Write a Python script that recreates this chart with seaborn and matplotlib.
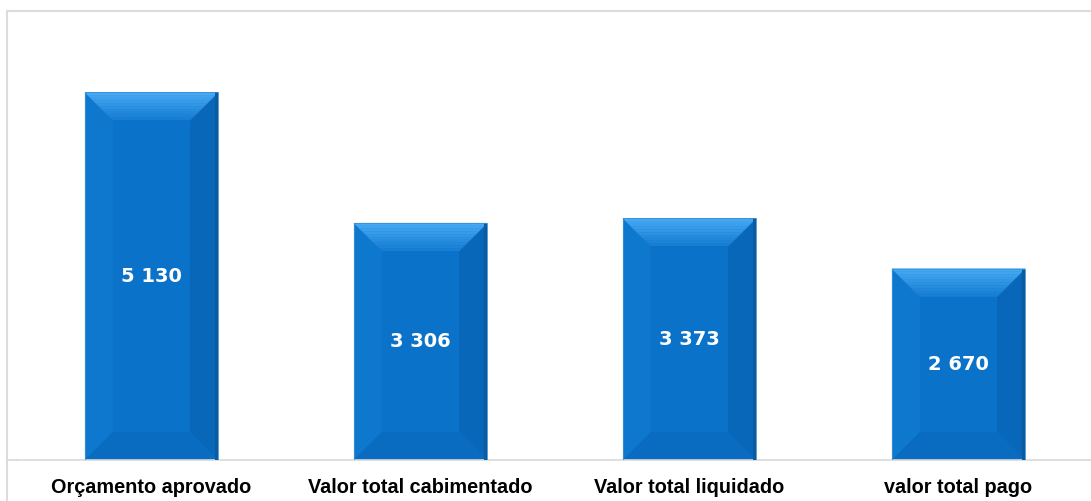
import pandas as pd
import numpy as np
import matplotlib
matplotlib.use("Agg")
import matplotlib.pyplot as plt
import seaborn as sns
from matplotlib.patches import Polygon, Rectangle
from matplotlib.lines import Line2D
from matplotlib.colors import to_rgb

# Data
categories = ['Orçamento aprovado', 'Valor total cabimentado', 'Valor total liquidado', 'valor total pago']
values = [5130, 3306, 3373, 2670]
value_labels = ['5 130', '3 306', '3 373', '2 670']

df = pd.DataFrame({'categoria': categories, 'valor': values})

sns.set_style('white')
plt.rcParams['font.family'] = ['Liberation Sans', 'DejaVu Sans']

fig = plt.figure(figsize=(10.91, 5.01), dpi=100)
W, H = 1091, 501
ax = fig.add_axes([17 / W, (H - 460) / H, 1076 / W, 440 / H])

main_blue = '#0a72c8'
sns.barplot(data=df, x='categoria', y='valor', color=main_blue, width=0.495,
            saturation=1, ax=ax, edgecolor='none')
ax.set_ylim(0, 6140)
ax.set_xlim(-0.5, len(categories) - 0.5)

# bevel effect, sized in pixels converted to data units
px_x = len(categories) / 1076.0
px_y = 6140 / 440.0
bev = 28
top_light = np.array(to_rgb('#45a9f3'))
top_dark = np.array(to_rgb('#1279cf'))
for p in ax.patches[:len(values)]:
    x0, y0 = p.get_x(), p.get_y()
    x1, y1 = x0 + p.get_width(), y0 + p.get_height()
    bx, by = bev * px_x, bev * px_y
    ix0, ix1, iy0, iy1 = x0 + bx, x1 - bx, y0 + by, y1 - by
    faces = [
        ([(x0, y0), (x0, y1), (ix0, iy1), (ix0, iy0)], '#0e78cf'),   # left
        ([(x1, y0), (x1, y1), (ix1, iy1), (ix1, iy0)], '#0867b9'),   # right
        ([(x0, y0), (x1, y0), (ix1, iy0), (ix0, iy0)], '#096cc0'),   # bottom
    ]
    for pts, c in faces:
        ax.add_patch(Polygon(pts, closed=True, facecolor=c, edgecolor='none', zorder=2.5))
    # top face as a gradient of bands
    n = 10
    for k in range(n):
        f0, f1 = k / n, (k + 1) / n
        c = top_light + (top_dark - top_light) * f0
        pts = [(x0 + bx * f0, y1 - by * f0), (x1 - bx * f0, y1 - by * f0),
               (x1 - bx * f1, y1 - by * f1), (x0 + bx * f1, y1 - by * f1)]
        ax.add_patch(Polygon(pts, closed=True, facecolor=c, edgecolor=c,
                             linewidth=0.3, zorder=2.55))
    ax.add_patch(Rectangle((ix0, iy0), ix1 - ix0, iy1 - iy0, facecolor=main_blue,
                           edgecolor='none', zorder=2.6))
    ax.add_patch(Rectangle((x1 - 3 * px_x, y0), 3 * px_x, y1 - y0, facecolor='#0a5c9f',
                           edgecolor='none', zorder=2.65))
    ax.add_patch(Rectangle((x0, y0), x1 - x0, y1 - y0, facecolor='none',
                           edgecolor='#3d8fd0', linewidth=0.6, zorder=2.7))

for i, (v, lab) in enumerate(zip(values, value_labels)):
    ax.text(i, v / 2, lab, ha='center', va='center', color='white',
            fontsize=14, fontweight='bold', family=['DejaVu Sans'], zorder=4)

ax.set_xlabel('')
ax.set_ylabel('')
ax.set_yticks([])
ax.tick_params(axis='x', length=0, pad=13)
for t in ax.get_xticklabels():
    t.set_fontweight('bold')
    t.set_fontsize(14.3)
    t.set_color('black')
for s in ['top', 'right', 'left']:
    ax.spines[s].set_visible(False)
ax.spines['bottom'].set_color('#d9d9d9')
ax.spines['bottom'].set_linewidth(1.2)

# chart area border
fig.add_artist(Line2D([7 / W, 7 / W], [0, 1 - 11 / H], color='#dcdcdc', lw=1.5))
fig.add_artist(Line2D([7 / W, 1], [1 - 11 / H, 1 - 11 / H], color='#dcdcdc', lw=1.5))
fig.add_artist(Line2D([7 / W, 17 / W], [(H - 460) / H] * 2, color='#d9d9d9', lw=1.2))

fig.savefig('out.png', dpi=100)
